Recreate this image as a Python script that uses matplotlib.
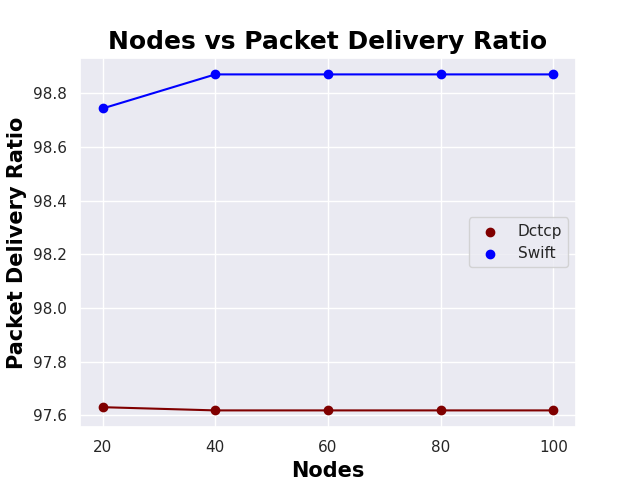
import matplotlib
matplotlib.use("Agg")
import matplotlib.pyplot as plt
import seaborn as sns

nodes = [20, 40, 60, 80, 100]
dctcp_pdr = [97.630, 97.618, 97.618, 97.618, 97.618]
swift_pdr = [98.743, 98.870, 98.870, 98.870, 98.870]

sns.set_theme(style="darkgrid")

fig, ax = plt.subplots(figsize=(6.4, 4.8), dpi=100)

ax.scatter(nodes, dctcp_pdr, color="maroon", label="Dctcp", zorder=3)
ax.plot(nodes, dctcp_pdr, color="maroon")
ax.scatter(nodes, swift_pdr, color="blue", label="Swift", zorder=3)
ax.plot(nodes, swift_pdr, color="blue")

ax.set_title("Nodes vs Packet Delivery Ratio", fontsize=18, fontweight="bold", color="black")
ax.set_xlabel("Nodes", fontsize=15, fontweight="bold", color="black")
ax.set_ylabel("Packet Delivery Ratio", fontsize=15, fontweight="bold", color="black")
ax.set_xticks(nodes)
ax.legend(loc="center right")

fig.savefig("out.png", dpi=100)
